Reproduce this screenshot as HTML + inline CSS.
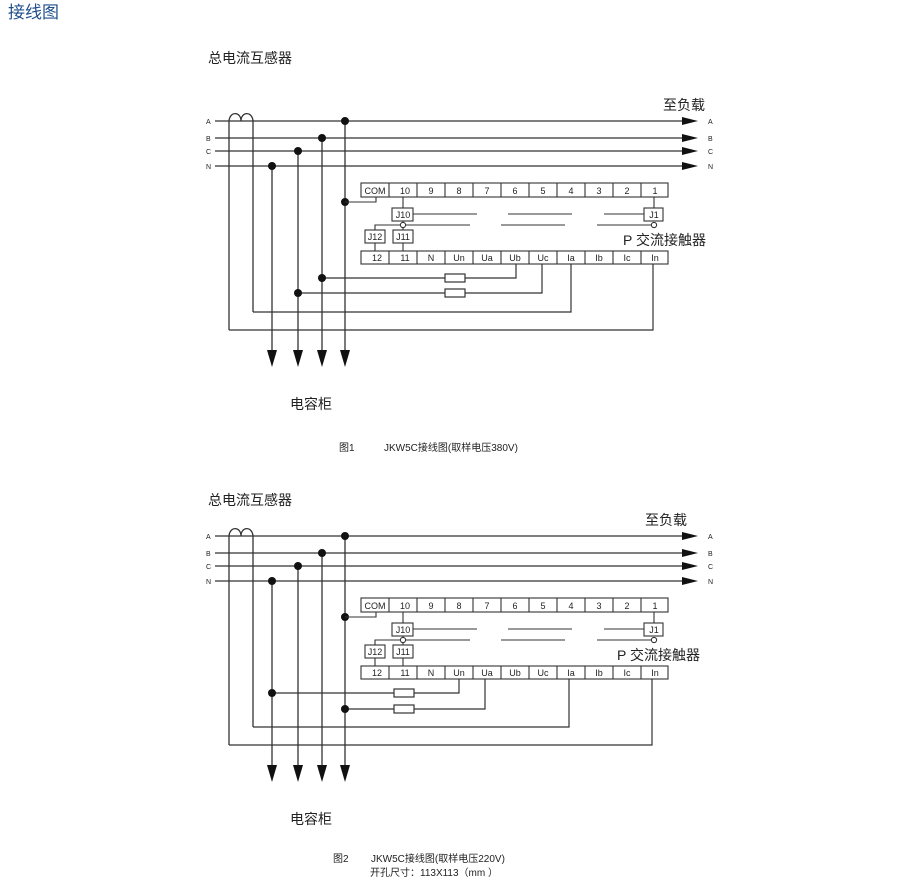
<!DOCTYPE html>
<html><head><meta charset="utf-8"><style>
html,body{margin:0;padding:0;background:#fff;}
svg{display:block;}
text{font-family:"Liberation Sans","Noto Sans CJK SC",sans-serif;fill:#222;}
</style></head><body>
<svg width="920" height="883" viewBox="0 0 920 883" xmlns="http://www.w3.org/2000/svg">
<defs>
<marker id="ar" viewBox="0 0 10 10" refX="10" refY="5" markerWidth="10" markerHeight="10" markerUnits="userSpaceOnUse" orient="auto"><path d="M0,0 L10,5 L0,10 z" fill="#111"/></marker>
</defs>
<text x="8" y="18" font-size="17" style="fill:#1f4e8c">接线图</text>

<g id="d1">
<text x="208" y="63" font-size="14">总电流互感器</text>
<g stroke="#333" stroke-width="1.3" fill="none">
<line x1="215" y1="121" x2="684" y2="121"/><line x1="215" y1="138" x2="684" y2="138"/>
<line x1="215" y1="151" x2="684" y2="151"/><line x1="215" y1="166" x2="684" y2="166"/>
<path d="M229,122 C229,111 241,111 241,121 C241,111 253,111 253,122"/>
<line x1="229" y1="122" x2="229" y2="330"/><line x1="253" y1="122" x2="253" y2="312"/>
<line x1="272" y1="166" x2="272" y2="352"/><line x1="298" y1="151" x2="298" y2="352"/>
<line x1="322" y1="138" x2="322" y2="352"/><line x1="345" y1="121" x2="345" y2="352"/>
</g>
<g fill="#111">
<path d="M682,117 L698,121 L682,125z"/><path d="M682,134 L698,138 L682,142z"/>
<path d="M682,147 L698,151 L682,155z"/><path d="M682,162 L698,166 L682,170z"/>
<path d="M267,350 L277,350 L272,367z"/><path d="M293,350 L303,350 L298,367z"/>
<path d="M317,350 L327,350 L322,367z"/><path d="M340,350 L350,350 L345,367z"/>
<circle cx="345" cy="121" r="4"/><circle cx="322" cy="138" r="4"/><circle cx="298" cy="151" r="4"/><circle cx="272" cy="166" r="4"/>
<circle cx="345" cy="202" r="4"/>
</g>
<g font-size="7"><text x="206" y="124">A</text><text x="206" y="141">B</text><text x="206" y="154">C</text><text x="206" y="169">N</text>
<text x="708" y="124">A</text><text x="708" y="141">B</text><text x="708" y="154">C</text><text x="708" y="169">N</text></g>
<text x="663" y="110" font-size="14">至负载</text>
<g stroke="#333" stroke-width="1.1" fill="#fff">
<rect x="361" y="183" width="307" height="14"/>
<path d="M389,183v14M417,183v14M445,183v14M473,183v14M501,183v14M529,183v14M557,183v14M585,183v14M613,183v14M641,183v14" fill="none"/>
<rect x="361" y="251" width="307" height="13"/>
<path d="M389,251v13M417,251v13M445,251v13M473,251v13M501,251v13M529,251v13M557,251v13M585,251v13M613,251v13M641,251v13" fill="none"/>
<path d="M376,197 V202 H345 M403,197 V208 M654,197 V208 M413,214 H477 M508,214 H572 M604,214 H644 M375,230 V225 H470 M501,225 H565 M597,225 H654 M375,243 V251 M403,243 V251 M403,221 V230" fill="none"/>
<rect x="392" y="208" width="21" height="13"/><rect x="644" y="208" width="19" height="13"/>
<rect x="365" y="230" width="20" height="13"/><rect x="393" y="230" width="20" height="13"/>
<circle cx="403" cy="225" r="2.6"/><circle cx="654" cy="225" r="2.6"/>
</g>
<g font-size="9" text-anchor="middle">
<text x="375" y="194">COM</text><text x="405" y="194">10</text><text x="431" y="194">9</text><text x="459" y="194">8</text><text x="487" y="194">7</text><text x="515" y="194">6</text><text x="543" y="194">5</text><text x="571" y="194">4</text><text x="599" y="194">3</text><text x="627" y="194">2</text><text x="655" y="194">1</text>
<text x="377" y="261">12</text><text x="405" y="261">11</text><text x="431" y="261">N</text><text x="459" y="261">Un</text><text x="487" y="261">Ua</text><text x="515" y="261">Ub</text><text x="543" y="261">Uc</text><text x="571" y="261">Ia</text><text x="599" y="261">Ib</text><text x="627" y="261">Ic</text><text x="655" y="261">In</text>
<text x="403" y="218">J10</text><text x="654" y="218">J1</text><text x="375" y="240">J12</text><text x="403" y="240">J11</text>
</g>
<text x="623" y="245" font-size="14">P 交流接触器</text>
<text x="290" y="409" font-size="14">电容柜</text>
</g>

<g stroke="#333" stroke-width="1.2" fill="none">
<path d="M516,264 V278 H322 M542,264 V293 H298 M571,264 V312 H253 M653,264 V330 H229"/>
<rect x="445" y="274" width="20" height="8" fill="#fff"/><rect x="445" y="289" width="20" height="8" fill="#fff"/>
</g>
<g fill="#111"><circle cx="322" cy="278" r="4"/><circle cx="298" cy="293" r="4"/></g>
<text x="339" y="451" font-size="10">图1</text><text x="384" y="451" font-size="10">JKW5C接线图(取样电压380V)</text>

<g transform="translate(0,415)">
<text x="208" y="90" font-size="14">总电流互感器</text>
<g stroke="#333" stroke-width="1.3" fill="none">
<line x1="215" y1="121" x2="684" y2="121"/><line x1="215" y1="138" x2="684" y2="138"/>
<line x1="215" y1="151" x2="684" y2="151"/><line x1="215" y1="166" x2="684" y2="166"/>
<path d="M229,122 C229,111 241,111 241,121 C241,111 253,111 253,122"/>
<line x1="229" y1="122" x2="229" y2="330"/><line x1="253" y1="122" x2="253" y2="312"/>
<line x1="272" y1="166" x2="272" y2="352"/><line x1="298" y1="151" x2="298" y2="352"/>
<line x1="322" y1="138" x2="322" y2="352"/><line x1="345" y1="121" x2="345" y2="352"/>
</g>
<g fill="#111">
<path d="M682,117 L698,121 L682,125z"/><path d="M682,134 L698,138 L682,142z"/>
<path d="M682,147 L698,151 L682,155z"/><path d="M682,162 L698,166 L682,170z"/>
<path d="M267,350 L277,350 L272,367z"/><path d="M293,350 L303,350 L298,367z"/>
<path d="M317,350 L327,350 L322,367z"/><path d="M340,350 L350,350 L345,367z"/>
<circle cx="345" cy="121" r="4"/><circle cx="322" cy="138" r="4"/><circle cx="298" cy="151" r="4"/><circle cx="272" cy="166" r="4"/>
<circle cx="345" cy="202" r="4"/>
</g>
<g font-size="7"><text x="206" y="124">A</text><text x="206" y="141">B</text><text x="206" y="154">C</text><text x="206" y="169">N</text>
<text x="708" y="124">A</text><text x="708" y="141">B</text><text x="708" y="154">C</text><text x="708" y="169">N</text></g>
<text x="645" y="110" font-size="14">至负载</text>
<g stroke="#333" stroke-width="1.1" fill="#fff">
<rect x="361" y="183" width="307" height="14"/>
<path d="M389,183v14M417,183v14M445,183v14M473,183v14M501,183v14M529,183v14M557,183v14M585,183v14M613,183v14M641,183v14" fill="none"/>
<rect x="361" y="251" width="307" height="13"/>
<path d="M389,251v13M417,251v13M445,251v13M473,251v13M501,251v13M529,251v13M557,251v13M585,251v13M613,251v13M641,251v13" fill="none"/>
<path d="M376,197 V202 H345 M403,197 V208 M654,197 V208 M413,214 H477 M508,214 H572 M604,214 H644 M375,230 V225 H470 M501,225 H565 M597,225 H654 M375,243 V251 M403,243 V251 M403,221 V230" fill="none"/>
<rect x="392" y="208" width="21" height="13"/><rect x="644" y="208" width="19" height="13"/>
<rect x="365" y="230" width="20" height="13"/><rect x="393" y="230" width="20" height="13"/>
<circle cx="403" cy="225" r="2.6"/><circle cx="654" cy="225" r="2.6"/>
</g>
<g font-size="9" text-anchor="middle">
<text x="375" y="194">COM</text><text x="405" y="194">10</text><text x="431" y="194">9</text><text x="459" y="194">8</text><text x="487" y="194">7</text><text x="515" y="194">6</text><text x="543" y="194">5</text><text x="571" y="194">4</text><text x="599" y="194">3</text><text x="627" y="194">2</text><text x="655" y="194">1</text>
<text x="377" y="261">12</text><text x="405" y="261">11</text><text x="431" y="261">N</text><text x="459" y="261">Un</text><text x="487" y="261">Ua</text><text x="515" y="261">Ub</text><text x="543" y="261">Uc</text><text x="571" y="261">Ia</text><text x="599" y="261">Ib</text><text x="627" y="261">Ic</text><text x="655" y="261">In</text>
<text x="403" y="218">J10</text><text x="654" y="218">J1</text><text x="375" y="240">J12</text><text x="403" y="240">J11</text>
</g>
<text x="617" y="245" font-size="14">P 交流接触器</text>
<text x="290" y="409" font-size="14">电容柜</text>
<g stroke="#333" stroke-width="1.2" fill="none">
<path d="M459,264 V278 H272 M485,264 V294 H345 M569,264 V312 H253 M652,264 V330 H229"/>
<rect x="394" y="274" width="20" height="8" fill="#fff"/><rect x="394" y="290" width="20" height="8" fill="#fff"/>
</g>
<g fill="#111"><circle cx="272" cy="278" r="4"/><circle cx="345" cy="294" r="4"/></g>
</g>
<text x="333" y="862" font-size="10">图2</text><text x="371" y="862" font-size="10">JKW5C接线图(取样电压220V)</text>
<text x="370" y="876" font-size="10">开孔尺寸：113X113（mm ）</text>
</svg>
</body></html>
